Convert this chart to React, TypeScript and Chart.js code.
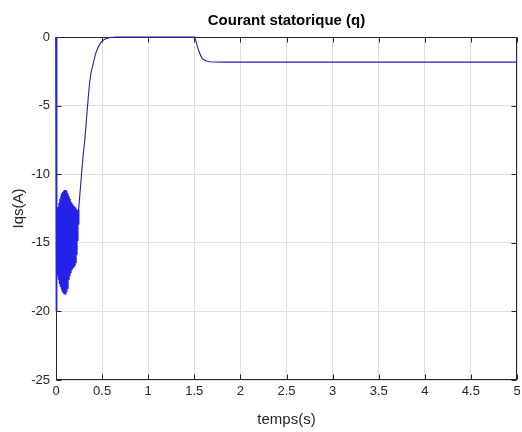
import React, { useEffect, useRef } from "react";
import { Chart, registerables } from "chart.js";

Chart.register(...registerables);

const TITLE = "Courant statorique (q)";
const X_LABEL = "temps(s)";
const Y_LABEL = "Iqs(A)";

// start-up: instant drop at t = 0
const startT = [0, 0.002];
const startI = [0, -20];

// oscillating start-up transient (alternating crests / troughs)
const oscT = [
  0.005, 0.01, 0.015, 0.02, 0.025, 0.03, 0.035, 0.04, 0.045, 0.05,
  0.055, 0.06, 0.065, 0.07, 0.075, 0.08, 0.085, 0.09, 0.095, 0.1,
  0.105, 0.11, 0.115, 0.12, 0.125, 0.13, 0.135, 0.14, 0.145, 0.15,
  0.155, 0.16, 0.165, 0.17, 0.175, 0.18, 0.185, 0.19, 0.195, 0.2,
  0.205, 0.21, 0.215, 0.22, 0.225, 0.23, 0.235, 0.24, 0.245,
];
const oscI = [
  -13.0, -17.1, -12.7, -17.4, -12.4, -17.7, -12.1, -18.0, -11.8, -18.2,
  -11.6, -18.4, -11.4, -18.5, -11.3, -18.6, -11.2, -18.7, -11.15, -18.7,
  -11.15, -18.5, -11.2, -18.3, -11.4, -18.0, -11.6, -17.7, -11.8, -17.4,
  -12.0, -17.2, -12.1, -17.0, -12.2, -16.9, -12.3, -16.8, -12.35, -16.6,
  -12.4, -16.4, -12.5, -15.8, -12.6, -14.8, -12.7, -13.6, -12.6,
];

// rise to zero and steady state
const riseT = [
  0.245, 0.26, 0.278, 0.295, 0.315, 0.335, 0.35, 0.365, 0.38, 0.405, 0.43,
  0.46, 0.49, 0.515, 0.55, 0.59, 0.65, 0.75, 1.0, 1.25, 1.505,
];
const riseI = [
  -12.6, -11.4, -9.9, -8.6, -7.3, -5.6, -4.4, -3.3, -2.6, -1.9, -1.2,
  -0.7, -0.38, -0.22, -0.1, -0.04, -0.01, 0, 0, 0, 0,
];

// load step at t = 1.5 s
const stepT = [1.52, 1.54, 1.56, 1.58, 1.6, 1.63, 1.67, 1.72, 1.8, 2.5, 3.5, 5.0];
const stepI = [-0.35, -0.85, -1.2, -1.5, -1.64, -1.75, -1.8, -1.82, -1.83, -1.83, -1.83, -1.83];

const transT = [...startT, ...oscT];
const transI = [...startI, ...oscI];
const restT = [...riseT, ...stepT];
const restI = [...riseI, ...stepI];

const FONT = "'Liberation Sans', Arial, Helvetica, sans-serif";
const TEXT = "#262626";

const framePlugin = {
  id: "matlabFrame",
  beforeDatasetsDraw(chart: any) {
    const { ctx, chartArea: a, scales } = chart;
    const L = Math.round(a.left) + 0.5;
    const R = Math.round(a.right) - 0.5;
    const T = Math.round(a.top) + 0.5;
    const B = Math.round(a.bottom) - 0.5;
    ctx.save();
    ctx.strokeStyle = TEXT;
    ctx.lineWidth = 1;
    ctx.strokeRect(L, T, R - L, B - T);
    const tl = 5;
    ctx.beginPath();
    for (const t of scales.x.ticks) {
      const px = Math.round(scales.x.getPixelForValue(t.value)) + 0.5;
      ctx.moveTo(px, B);
      ctx.lineTo(px, B - tl);
      ctx.moveTo(px, T);
      ctx.lineTo(px, T + tl);
    }
    for (const t of scales.y.ticks) {
      const py = Math.round(scales.y.getPixelForValue(t.value)) + 0.5;
      ctx.moveTo(L, py);
      ctx.lineTo(L + tl, py);
      ctx.moveTo(R, py);
      ctx.lineTo(R - tl, py);
    }
    ctx.stroke();
    ctx.restore();
  },
};

export default function App() {
  const ref = useRef<HTMLCanvasElement | null>(null);

  useEffect(() => {
    document.body.style.margin = "0";
    const canvas = ref.current;
    if (!canvas) return;
    const trans = transT.map((t, i) => ({ x: t, y: transI[i] }));
    const rest = restT.map((t, i) => ({ x: t, y: restI[i] }));
    const chart = new Chart(canvas, {
      type: "line",
      data: {
        datasets: [
          {
            data: trans,
            borderColor: "#2222e8",
            borderWidth: 1.8,
            pointRadius: 0,
            tension: 0,
            fill: false,
            clip: 3,
          },
          {
            data: rest,
            borderColor: "#2020c0",
            borderWidth: 1.1,
            pointRadius: 0,
            tension: 0,
            fill: false,
            clip: 3,
          },
        ],
      },
      options: {
        responsive: false,
        animation: false,
        devicePixelRatio: 1,
        layout: { padding: { left: 0, right: 5, top: 0, bottom: 0 } },
        plugins: {
          legend: { display: false },
          tooltip: { enabled: false },
          title: {
            display: true,
            fullSize: false,
            text: TITLE,
            color: "#000",
            font: { family: FONT, size: 15, weight: "bold" },
            padding: { top: 12, bottom: 7 },
          },
        },
        scales: {
          x: {
            type: "linear",
            min: 0,
            max: 5,
            ticks: {
              stepSize: 0.5,
              color: TEXT,
              font: { family: FONT, size: 13 },
              padding: 4,
              maxRotation: 0,
              callback: (v: any) => String(Math.round(Number(v) * 10) / 10),
            },
            grid: { color: "#dedede", drawTicks: false },
            border: { display: false },
            title: {
              display: true,
              text: X_LABEL,
              color: TEXT,
              font: { family: FONT, size: 15 },
              padding: { top: 0, bottom: 3 },
            },
            afterFit: (s: any) => {
              s.height = 52;
              s.paddingLeft = 0;
              s.paddingRight = 0;
            },
          },
          y: {
            type: "linear",
            min: -25,
            max: 0,
            ticks: {
              stepSize: 5,
              color: TEXT,
              font: { family: FONT, size: 13 },
              padding: 6,
            },
            grid: { color: "#dedede", drawTicks: false },
            border: { display: false },
            title: {
              display: true,
              text: Y_LABEL,
              color: TEXT,
              font: { family: FONT, size: 15 },
              padding: { top: 10, bottom: 0 },
            },
            afterFit: (s: any) => {
              s.width = 56;
              s.paddingTop = 0;
              s.paddingBottom = 0;
            },
          },
        },
      },
      plugins: [framePlugin],
    });
    return () => chart.destroy();
  }, []);

  return (
    <div style={{ width: 522, height: 432, background: "#fff" }}>
      <canvas ref={ref} width={522} height={432} style={{ display: "block" }} />
    </div>
  );
}
